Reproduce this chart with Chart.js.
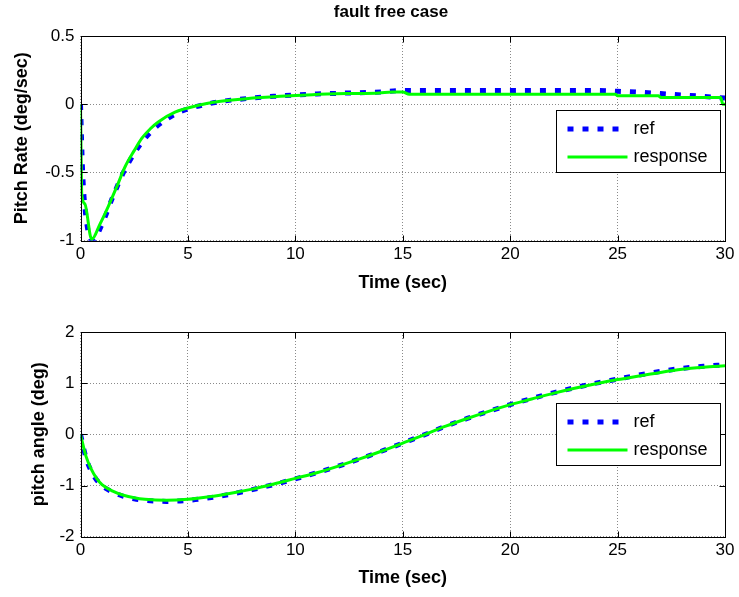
<!DOCTYPE html>
<html>
<head>
<meta charset="utf-8">
<title>fault free case</title>
<script src="https://cdn.jsdelivr.net/npm/chart.js@4.4.1/dist/chart.umd.min.js"></script>
<style>
  html, body { margin: 0; padding: 0; background: #fff; }
  #wrap { position: relative; width: 739px; height: 597px; }
  .panel { position: absolute; left: 0; width: 739px; }
  #top { top: 0; height: 300px; }
  #bottom { top: 300px; height: 297px; }
</style>
</head>
<body>
<div id="wrap">
  <div class="panel" id="top"><canvas id="rateChart"></canvas></div>
  <div class="panel" id="bottom"><canvas id="angleChart"></canvas></div>
</div>
<script>
// pitch rate, top subplot
const rateRefTime = [0, 0.1, 0.25, 0.55, 1, 1.5, 2, 2.5, 3, 3.5, 4, 4.5, 5, 6, 7, 8, 9, 10, 11, 12, 13, 14, 15, 16, 18, 20, 22, 24, 25, 26, 27, 28, 29, 30];
const rateRef = [0, -0.5, -0.82, -1.0, -0.88, -0.68, -0.5, -0.36, -0.25, -0.17, -0.11, -0.065, -0.035, 0.005, 0.03, 0.045, 0.058, 0.068, 0.075, 0.08, 0.085, 0.09, 0.1, 0.1, 0.1, 0.1, 0.1, 0.1, 0.095, 0.088, 0.078, 0.068, 0.058, 0.045];
const rateRespTime = [0, 0.06, 0.2, 0.52, 0.9, 1.29, 1.7, 2.07, 2.5, 2.85, 3.25, 3.62, 4.4, 5.5, 6.2, 7.7, 9.3, 10.8, 12.4, 13.9, 14.5, 15.0, 15.3, 24.9, 25.0, 26.9, 27.0, 29.8, 29.9, 30];
const rateResp = [0, -0.66, -0.73, -0.99, -0.88, -0.75, -0.6, -0.46, -0.34, -0.25, -0.18, -0.13, -0.058, -0.008, 0.015, 0.04, 0.058, 0.07, 0.078, 0.083, 0.09, 0.09, 0.073, 0.073, 0.062, 0.062, 0.05, 0.05, 0.0, 0.0];

// pitch angle, bottom subplot
const angleTime = [0, 0.25, 0.5, 0.75, 1, 1.5, 2, 2.5, 3, 4, 5, 6, 7, 8, 9, 10, 11, 12, 13, 14, 15, 16, 17, 18, 19, 20, 21, 22, 23, 24, 25, 26, 27, 28, 29, 30];
const angleRef = [0, -0.45, -0.72, -0.89, -1.0, -1.13, -1.21, -1.26, -1.29, -1.31, -1.29, -1.24, -1.17, -1.08, -0.98, -0.87, -0.75, -0.62, -0.48, -0.33, -0.17, -0.01, 0.16, 0.31, 0.45, 0.58, 0.7, 0.81, 0.91, 1.0, 1.08, 1.16, 1.23, 1.29, 1.33, 1.36];
const angleResp = [0, -0.42, -0.68, -0.86, -0.98, -1.11, -1.19, -1.24, -1.27, -1.29, -1.27, -1.22, -1.15, -1.07, -0.97, -0.86, -0.75, -0.62, -0.48, -0.33, -0.17, -0.01, 0.16, 0.31, 0.45, 0.58, 0.69, 0.8, 0.9, 0.99, 1.07, 1.14, 1.21, 1.27, 1.31, 1.34];

const legendLabels = ['ref', 'response'];
const xTicksStep = 5;

Chart.defaults.font.family = '"Liberation Sans", Arial, Helvetica, sans-serif';
Chart.defaults.color = '#000';

function toPoints(xs, ys) {
    return xs.map((x, i) => ({ x: x, y: ys[i] }));
}

// box, inner tick marks, title and legend, drawn like a matlab axes
const framePlugin = {
    id: 'frame',
    afterDraw(chart, args, opts) {
        const ctx = chart.ctx;
        const a = chart.chartArea;
        const L = Math.round(a.left) + 0.5, R = Math.round(a.right) + 0.5;
        const T = Math.round(a.top) + 0.5, B = Math.round(a.bottom) + 0.5;
        ctx.save();
        ctx.strokeStyle = '#000';
        ctx.lineWidth = 1;
        ctx.strokeRect(L, T, R - L, B - T);

        ctx.beginPath();
        chart.scales.x.ticks.forEach(t => {
            const px = Math.round(chart.scales.x.getPixelForValue(t.value)) + 0.5;
            ctx.moveTo(px, B); ctx.lineTo(px, B - 6);
            ctx.moveTo(px, T); ctx.lineTo(px, T + 6);
        });
        chart.scales.y.ticks.forEach(t => {
            const py = Math.round(chart.scales.y.getPixelForValue(t.value)) + 0.5;
            ctx.moveTo(L, py); ctx.lineTo(L + 6, py);
            ctx.moveTo(R, py); ctx.lineTo(R - 6, py);
        });
        ctx.stroke();

        if (opts.title) {
            ctx.fillStyle = '#000';
            ctx.font = 'bold 17px "Liberation Sans", Arial, sans-serif';
            ctx.textAlign = 'center';
            ctx.textBaseline = 'middle';
            ctx.fillText(opts.title, 391, 12);
        }

        // legend
        const bx = Math.round(a.right - 169) + 0.5, bw = 164, bh = 62;
        const by = Math.round(opts.legendTop) + 0.5;
        ctx.fillStyle = '#fff';
        ctx.fillRect(bx, by, bw, bh);
        ctx.strokeRect(bx, by, bw, bh);

        const y1 = by + 18.5, y2 = by + 46.5;
        ctx.lineWidth = 5;
        ctx.strokeStyle = '#0000ff';
        ctx.setLineDash([6, 9]);
        ctx.beginPath(); ctx.moveTo(bx + 11, y1); ctx.lineTo(bx + 71, y1); ctx.stroke();
        ctx.setLineDash([]);
        ctx.lineWidth = 3;
        ctx.strokeStyle = '#00ff00';
        ctx.beginPath(); ctx.moveTo(bx + 11, y2); ctx.lineTo(bx + 71, y2); ctx.stroke();

        ctx.fillStyle = '#000';
        ctx.font = '18px "Liberation Sans", Arial, sans-serif';
        ctx.textBaseline = 'middle';
        ctx.textAlign = 'left';
        ctx.fillText(legendLabels[0], bx + 77, y1);
        ctx.fillText(legendLabels[1], bx + 77, y2);
        ctx.restore();
    }
};

function buildChart(canvasId, cfg) {
    const ctx = document.getElementById(canvasId).getContext('2d');
    return new Chart(ctx, {
        type: 'line',
        data: {
            datasets: [{
                label: legendLabels[0],
                data: cfg.refData,
                borderColor: '#0000ff',
                borderWidth: 5,
                borderDash: [6, 9],
                pointRadius: 0,
                fill: false,
                cubicInterpolationMode: 'monotone',
                order: 2
            }, {
                label: legendLabels[1],
                data: cfg.respData,
                borderColor: '#00ff00',
                borderWidth: 3,
                pointRadius: 0,
                fill: false,
                cubicInterpolationMode: 'monotone',
                order: 1
            }]
        },
        options: {
            responsive: true,
            maintainAspectRatio: false,
            animation: false,
            events: [],
            layout: { padding: { left: 0, right: 14, top: cfg.padTop, bottom: 0 } },
            scales: {
                x: {
                    type: 'linear',
                    min: 0,
                    max: 30,
                    ticks: { stepSize: xTicksStep, padding: 3, maxRotation: 0, font: { size: 17 }, color: '#000' },
                    grid: { color: '#8a8a8a', drawTicks: false },
                    border: { display: false, dash: [1, 2] },
                    title: { display: true, text: 'Time (sec)', color: '#000', font: { size: 18, weight: 'bold' }, padding: { top: 0, bottom: cfg.xTitlePad } },
                    afterFit: s => { s.height = cfg.xHeight; }
                },
                y: {
                    type: 'linear',
                    min: cfg.yMin,
                    max: cfg.yMax,
                    ticks: { stepSize: cfg.yStep, padding: 6, font: { size: 17 }, color: '#000', callback: v => String(v) },
                    grid: { color: '#8a8a8a', drawTicks: false },
                    border: { display: false, dash: [1, 2] },
                    title: { display: true, text: cfg.yTitle, color: '#000', font: { size: 18, weight: 'bold' }, padding: { top: cfg.yTitlePad, bottom: cfg.yTitlePad } },
                    afterFit: s => { s.width = 80.5; }
                }
            },
            plugins: {
                legend: { display: false },
                tooltip: { enabled: false },
                title: { display: false },
                frame: { legendTop: cfg.legendTop, title: cfg.title }
            }
        },
        plugins: [framePlugin]
    });
}

buildChart('rateChart', {
    refData: toPoints(rateRefTime, rateRef),
    respData: toPoints(rateRespTime, rateResp),
    yMin: -1, yMax: 0.5, yStep: 0.5,
    yTitle: 'Pitch Rate (deg/sec)',
    yTitlePad: 11.2,
    title: 'fault free case',
    padTop: 36,
    xHeight: 59.3,
    xTitlePad: 6.2,
    legendTop: 110.3
});

buildChart('angleChart', {
    refData: toPoints(angleTime, angleRef),
    respData: toPoints(angleTime, angleResp),
    yMin: -2, yMax: 2, yStep: 1,
    yTitle: 'pitch angle (deg)',
    yTitlePad: 28.2,
    title: null,
    padTop: 32,
    xHeight: 60.3,
    xTitlePad: 8.2,
    legendTop: 103.3
});
</script>
</body>
</html>
